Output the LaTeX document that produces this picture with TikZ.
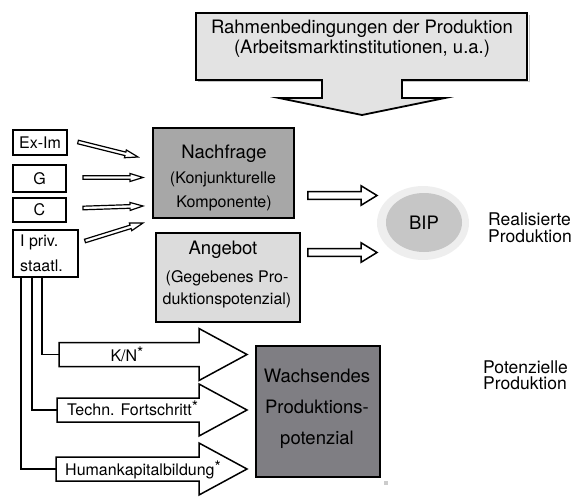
\documentclass[tikz,border=0pt]{standalone}
\usepackage{fontspec}
\setmainfont{TeX Gyre Heros}
\usetikzlibrary{calc,shapes.geometric}
\definecolor{callout}{HTML}{E3E3E3}
\definecolor{nachc}{HTML}{A7A7A7}
\definecolor{angc}{HTML}{DCDCDC}
\definecolor{wachc}{HTML}{7F7E83}
\definecolor{bipc}{HTML}{C6C6C6}
\definecolor{haloc}{HTML}{EEEEEE}
\tikzset{
  box/.style={draw, line width=1.6pt, inner sep=0pt, font=\fontsize{16}{19}\selectfont},
  bigbox/.style={draw, line width=1.8pt, inner sep=0pt},
  barr/.style={draw, fill=white, line width=1.2pt, line join=miter},
  t16/.style={font=\fontsize{16}{19}\selectfont, inner sep=0pt},
  t18/.style={font=\fontsize{18.5}{22}\selectfont, inner sep=0pt},
  t17/.style={font=\fontsize{17.5}{20}\selectfont, inner sep=0pt},
  conn/.style={draw, line width=1.4pt},
}
% block arrow: [style] {from}{to}{body half}{head half}{head length}
\newcommand{\blockarr}[6][]{%
  \draw[barr,#1] let \p1=($(#3)!#6!(#2)$) in
    ($(#2)!#4!90:(#3)$) -- ($(\p1)!#4!-90:(#2)$) -- ($(\p1)!#5!-90:(#2)$)
    -- (#3) -- ($(\p1)!#5!90:(#2)$) -- ($(\p1)!#4!90:(#2)$)
    -- ($(#2)!#4!-90:(#3)$) -- cycle;}
\begin{document}
\begin{tikzpicture}[x=1pt,y=-1pt]
\useasboundingbox (0,0) rectangle (576,496);

% top callout
\fill[gray!45] (529,15) rectangle (529.8,82) (198,81) rectangle (529.8,81.8);
\draw[line width=1.8pt, fill=callout, line join=miter]
  (196,13) -- (527,13) -- (527,80) -- (402,80) -- (402,98) -- (445,98)
  -- (362,115) -- (279,98) -- (322,98) -- (322,80) -- (196,80) -- cycle;
\node[t18, anchor=base] (rb1) at (362,33) {Rahmenbedingungen der Produktion};
\node[t18, anchor=base] (rb2) at (362,53) {(Arbeitsmarktinstitutionen, u.a.)};

% left boxes
\node[box, minimum width=54, minimum height=25] (exim) at (40,142.5) {Ex-Im};
\node[box, minimum width=53, minimum height=27] (g) at (39.5,178.5) {G};
\node[box, minimum width=53, minimum height=24] (c) at (39.5,210) {C};
\node[box, minimum width=65, minimum height=47] (inv) at (45.5,253.5) {};
\node[t16, anchor=base west] (inv1) at (20,246.5) {I priv.};
\node[t16, anchor=base west] (inv2) at (20,271) {staatl.};

% Nachfrage
\node[bigbox, fill=nachc, minimum width=141, minimum height=90] (nach) at (223.5,173) {};
\node[t18, anchor=base] (nach1) at (224,158.5) {Nachfrage};
\node[t16, anchor=base] (nach2) at (223,183) {(Konjunkturelle};
\node[t16, anchor=base] (nach3) at (224,207) {Komponente)};

% Angebot
\node[bigbox, fill=angc, minimum width=144, minimum height=89] (ang) at (228,277.5) {};
\node[t18, anchor=base] (ang1) at (223,254.5) {Angebot};
\node[t16, anchor=base] (ang2) at (227,282) {(Gegebenes Pro-};
\node[t16, anchor=base] (ang3) at (227,304) {duktionspotenzial)};

% Wachsendes Produktionspotenzial
\node[bigbox, line width=2pt, fill=wachc, minimum width=124, minimum height=131] (wach) at (318,411.5) {};
\node[t18, anchor=base] (wach1) at (317,382) {Wachsendes};
\node[t18, anchor=base] (wach2) at (317,413) {Produktions-};
\node[t18, anchor=base] (wach3) at (317,444) {potenzial};

% BIP
\node[ellipse, fill=haloc, minimum width=92, minimum height=74, inner sep=0pt] (halo) at (423,223) {};
\node[ellipse, fill=bipc, minimum width=76, minimum height=59, inner sep=0pt, t18] (bip) at (424,222.5) {BIP};

% side labels
\node[t17, anchor=base west] (real1) at (488,225.5) {Realisierte};
\node[t17, anchor=base west] (real2) at (488,242) {Produktion};
\node[t17, anchor=base west] (pot1) at (483,373) {Potenzielle};
\node[t17, anchor=base west] (pot2) at (483,389) {Produktion};

% thin arrows into Nachfrage
\coordinate (exA) at (78,142);  \coordinate (exB) at (138,157);
\coordinate (gA) at (83,177.5); \coordinate (gB) at (143,177.5);
\coordinate (cA) at (83,208);   \coordinate (cB) at (143,206);
\coordinate (iA) at (85,241);   \coordinate (iB) at (143,223);
\blockarr{exA}{exB}{1.8pt}{4pt}{13pt}
\blockarr{gA}{gB}{1.8pt}{4pt}{13pt}
\blockarr{cA}{cB}{1.8pt}{4pt}{13pt}
\blockarr{iA}{iB}{1.8pt}{4pt}{13pt}

% arrows to BIP
\coordinate (uA) at ([xshift=13]nach.east |- 0,195.5);
\coordinate (uB) at (377,195.5);
\coordinate (lA) at ([xshift=7]ang.east |- 0,252.5);
\coordinate (lB) at (377,252.5);
\blockarr[line width=1.5pt]{uA}{uB}{3.8pt}{9.8pt}{16pt}
\blockarr[line width=1.5pt]{lA}{lB}{3.8pt}{9.8pt}{16pt}

% big arrows
\coordinate (knA) at (59,354.5); \coordinate (knB) at (247,354.5);
\coordinate (tfA) at (57,410);   \coordinate (tfB) at (247,410);
\coordinate (hkA) at (56,469);   \coordinate (hkB) at (247,469);
\draw[conn] ([xshift=-3.5]inv.south) |- (knA);
\draw[conn] ([xshift=-13.5]inv.south) |- (tfA);
\draw[conn] ([xshift=-24.5]inv.south) |- (hkA);
\blockarr[line width=1.5pt]{knA}{knB}{12pt}{26pt}{48pt}
\blockarr[line width=1.5pt]{tfA}{tfB}{12pt}{26pt}{48pt}
\blockarr[line width=1.5pt]{hkA}{hkB}{12pt}{26pt}{48pt}
\node[t16, anchor=base] (kn) at (127,361) {K/N\raisebox{3pt}{*}};
\node[t16, anchor=base west] (tf) at (67,415) {Techn. Fortschritt\raisebox{3pt}{*}};
\node[t16, anchor=base west] (hk) at (65,475) {Humankapitalbildung\raisebox{3pt}{*}};

% small grey mark
\fill[gray!40] (384,481) rectangle (388,485);
\end{tikzpicture}
\end{document}
